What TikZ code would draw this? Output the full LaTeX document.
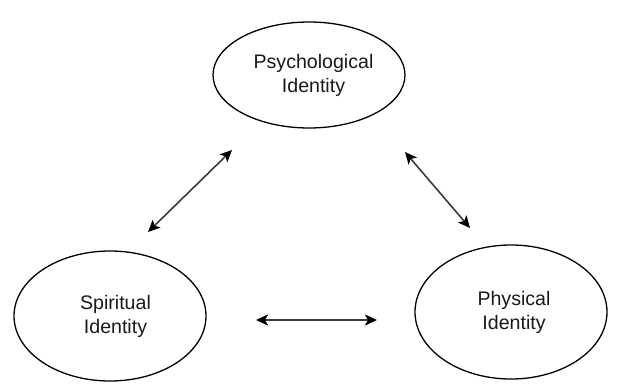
\documentclass[tikz,border=0pt]{standalone}
\usepackage{fontspec}
\setmainfont{Liberation Sans}
\usetikzlibrary{shapes.geometric,arrows.meta}
\definecolor{linegray}{HTML}{3A3A3A}
\begin{document}
\begin{tikzpicture}[x=1pt,y=-1pt,
  idnode/.style={draw=black,line width=1.3pt,ellipse,inner sep=0pt,
    minimum width=192pt,align=center,text=black!90,
    font=\fontsize{19.6}{24}\selectfont},
  dblarrow/.style={draw=linegray,line width=1.6pt,
    {Stealth[length=12pt,width=11pt,inset=3pt,fill=black,color=black]}-{Stealth[length=12pt,width=11pt,inset=3pt,fill=black,color=black]}}]
\useasboundingbox (0,0) rectangle (621,383);
\node[idnode,minimum height=106pt] (psy) at (309,75) {\hspace*{9pt}Psychological\\\hspace*{9pt}Identity};
\node[idnode,minimum height=130pt] (spi) at (110,316) {\hspace*{11pt}Spiritual\\\hspace*{11pt}Identity};
\node[idnode,minimum height=134pt] (phy) at (511,312) {\hspace*{6pt}Physical\\\hspace*{6pt}Identity};
\coordinate (a1) at (148,232);
\coordinate (a2) at (232,150);
\coordinate (b1) at (405,152);
\coordinate (b2) at (470,228);
\coordinate (c1) at (256,320);
\coordinate (c2) at (377,320);
\draw[dblarrow] (a1) -- (a2);
\draw[dblarrow] (b1) -- (b2);
\draw[dblarrow] (c1) -- (c2);
\end{tikzpicture}
\end{document}
